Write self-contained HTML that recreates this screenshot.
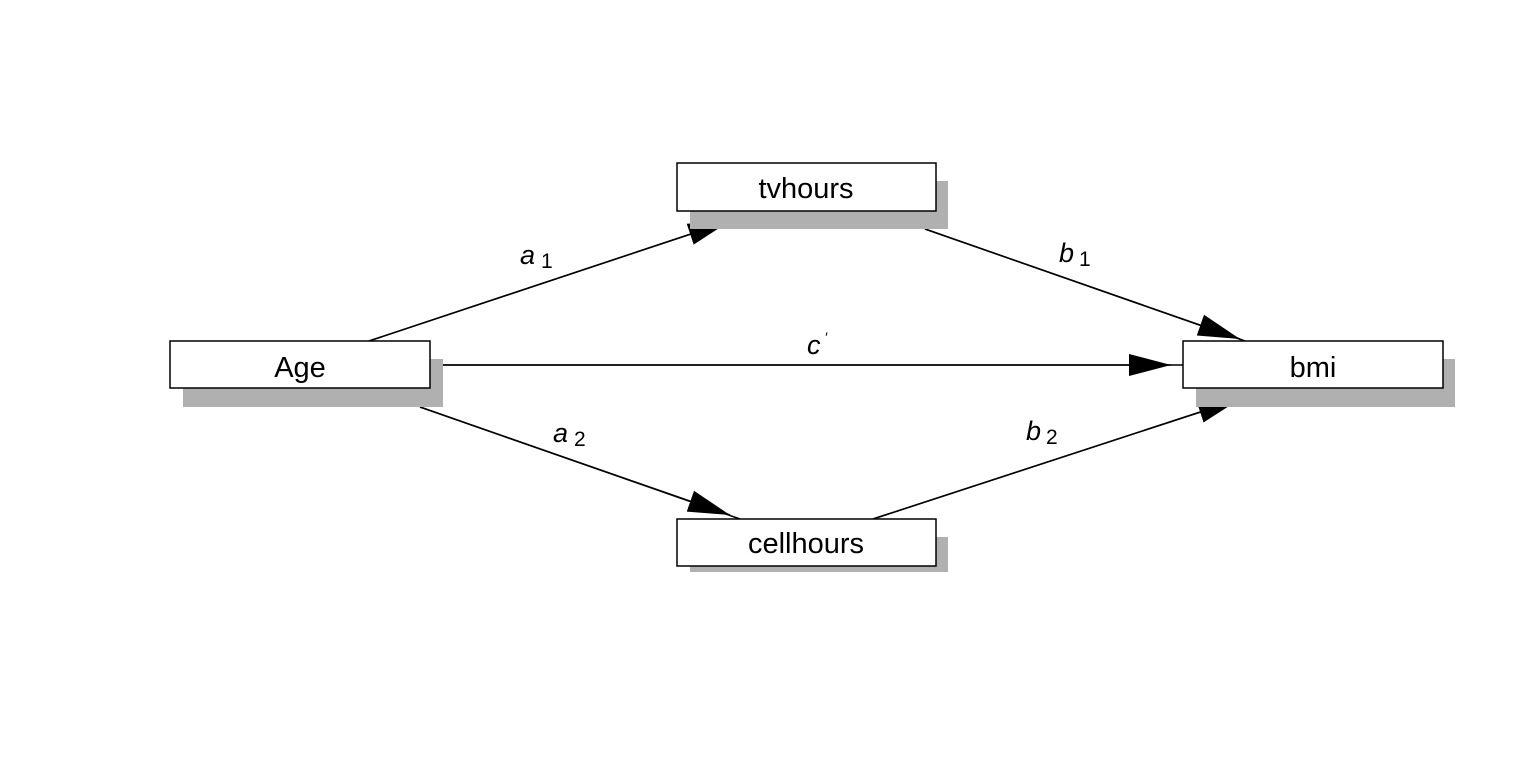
<!DOCTYPE html>
<html><head><style>
body{margin:0;background:#fff;}
svg{display:block;}
text{font-family:"Liberation Sans",sans-serif;}
</style></head><body>
<svg width="1536" height="768" xmlns="http://www.w3.org/2000/svg">
<defs>
<marker id="ah" markerWidth="42" markerHeight="24" refX="42" refY="12" orient="auto" markerUnits="userSpaceOnUse">
<polygon points="0,1 42,12 0,23" fill="#000"/>
</marker>
</defs>
<g stroke="#000" stroke-width="1.5" fill="none">
<line x1="369" y1="341" x2="706" y2="229"/>
<line x1="925" y1="229" x2="1245" y2="341"/>
<line x1="443" y1="365" x2="1183" y2="365"/>
<line x1="420" y1="407" x2="740" y2="519"/>
<line x1="873" y1="519" x2="1216" y2="407"/>
</g>
<g stroke="#000" stroke-width="1.5" fill="none">
<line x1="369" y1="341" x2="730" y2="221" marker-end="url(#ah)"/>
<line x1="925" y1="229" x2="1240" y2="339" marker-end="url(#ah)"/>
<line x1="443" y1="365" x2="1171" y2="365" marker-end="url(#ah)"/>
<line x1="420" y1="407" x2="730" y2="515" marker-end="url(#ah)"/>
<line x1="873" y1="519" x2="1240" y2="399" marker-end="url(#ah)"/>
</g>
<g fill="#b0b0b0">
<rect x="690" y="181" width="258" height="48"/>
<rect x="183" y="359" width="260" height="48"/>
<rect x="1196" y="359" width="259" height="48"/>
<rect x="690" y="537" width="258" height="35"/>
</g>
<g fill="#fff" stroke="#000" stroke-width="1.5">
<rect x="677" y="163" width="259" height="48"/>
<rect x="170" y="341" width="260" height="47"/>
<rect x="1183" y="341" width="260" height="47"/>
<rect x="677" y="519" width="259" height="47"/>
</g>
<g font-size="29" text-anchor="middle" fill="#000">
<text x="806" y="198">tvhours</text>
<text x="300" y="377">Age</text>
<text x="1313" y="377">bmi</text>
<text x="806" y="553">cellhours</text>
</g>
<g font-size="27" font-style="italic" fill="#000">
<text x="520" y="264">a<tspan font-style="normal" font-size="21" dx="6" dy="4">1</tspan></text>
<text x="1059" y="262">b<tspan font-style="normal" font-size="21" dx="5" dy="4">1</tspan></text>
<text x="807" y="354">c<tspan font-size="14" dx="4" dy="-12">′</tspan></text>
<text x="553" y="442">a<tspan font-style="normal" font-size="21" dx="6" dy="4">2</tspan></text>
<text x="1026" y="440">b<tspan font-style="normal" font-size="21" dx="5" dy="4">2</tspan></text>
</g>
</svg>
</body></html>
